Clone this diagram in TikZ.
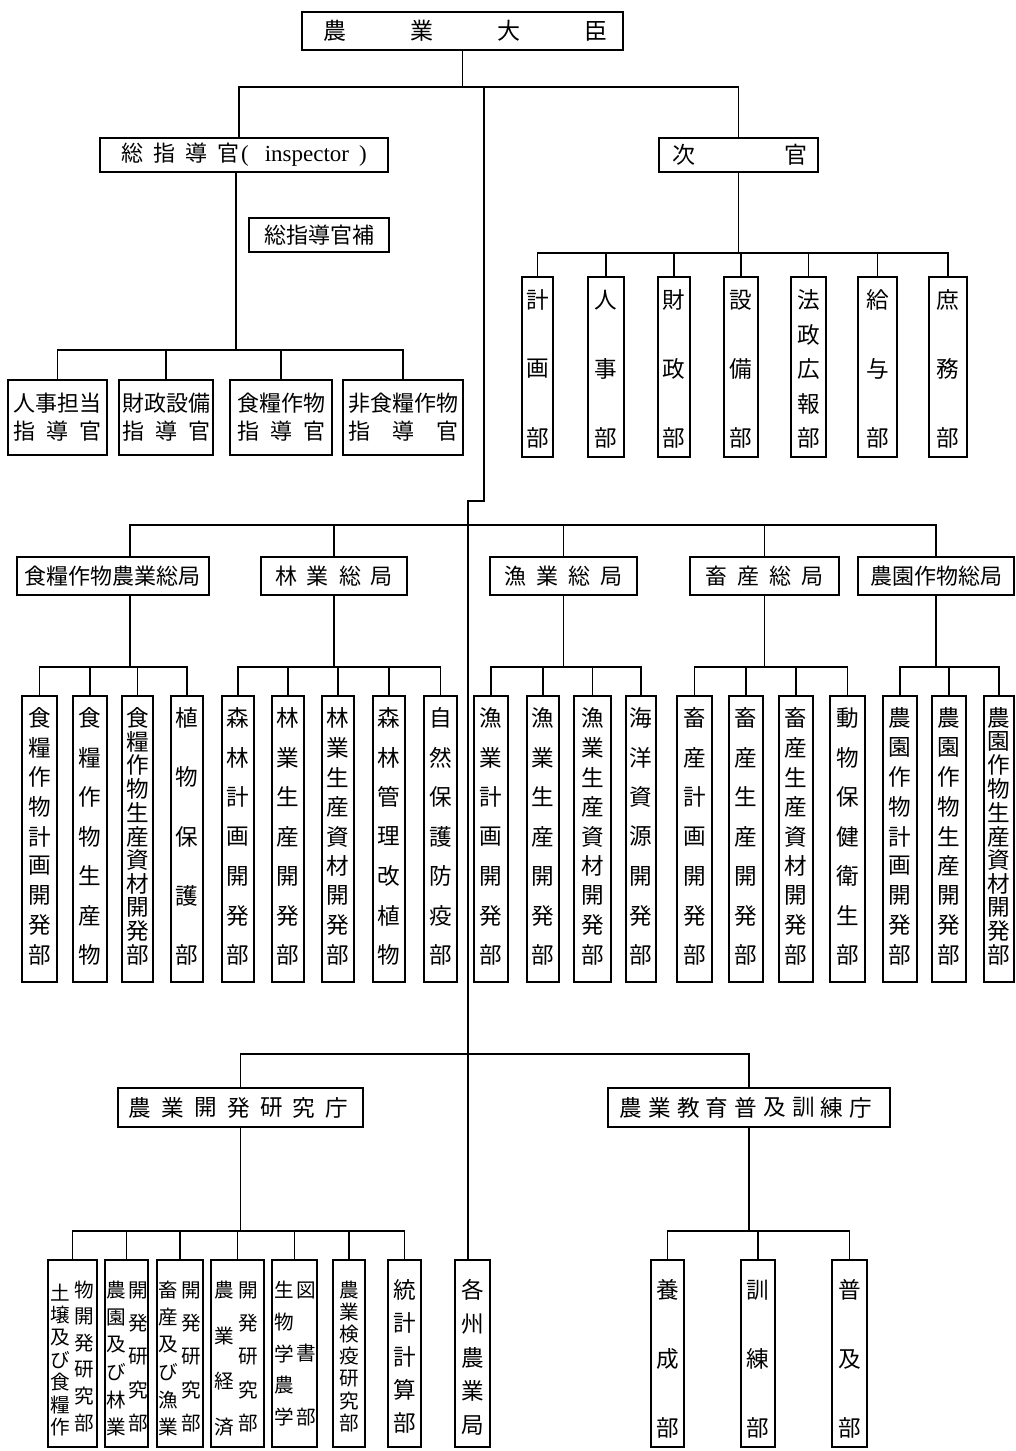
\documentclass[tikz,border=0pt]{standalone}
\usepackage{fontspec}
\newfontfamily\cjk{Noto Sans CJK JP}
\newfontfamily\lat{Liberation Serif}
\tikzset{
  box/.style={draw, line width=1.3pt, inner sep=0pt, font=\cjk\fontsize{11}{14}\selectfont, align=center},
  conn/.style={line width=0.7pt},
  ch/.style={inner sep=0pt, font=\cjk\fontsize{11.3}{11.3}\selectfont},
  chs/.style={inner sep=0pt, font=\cjk\fontsize{9.8}{9.8}\selectfont},
  chb/.style={inner sep=0pt, font=\cjk\fontsize{11.5}{11.5}\selectfont},
}
% box: [opts]{x1}{y1}{x2}{y2}{name}{text}
\newcommand\bx[7][]{\node[box,minimum width={(#4-#2)*0.5pt},minimum height={(#5-#3)*0.5pt},#1] (#6) at ({(#2+#4)/2},{(#3+#5)/2}) {#7};}
% vertical spread: [style]{name}{x}{ytop}{ybot}{N}{list}
\newcommand\vs[7][ch]{\foreach \mychar [count=\i from 0] in {#7} {\node[#1] (#2-\i) at (#3,{#4+\i*(#5-#4)/(#6-1)}) {\mychar};}}
% horizontal spread: [style]{name}{y}{x0}{x1}{N}{list}
\newcommand\hs[7][ch]{\foreach \mychar [count=\i from 0] in {#7} {\node[#1] (#2-\i) at ({#4+\i*(#5-#4)/(#6-1)},#3) {\mychar};}}
\begin{document}
\begin{tikzpicture}[x=0.5pt,y=-0.5pt]
\fill[white] (0,0) rectangle (1016,1451);
\useasboundingbox (0,0) rectangle (1016,1451);

% ---------- top ----------
\bx{302}{12}{623}{50}{min}{}
\hs[chb]{mint}{31}{335}{596}{4}{農,業,大,臣}
\bx{100}{138}{388}{172}{insp}{総\hspace{5pt}指\hspace{5pt}導\hspace{5pt}官\hspace{1pt}{\lat\fontsize{11.5}{11.5}\selectfont(\hspace{8pt}inspector\hspace{5pt})}}
\bx{659}{138}{818}{172}{vice}{}
\hs[chb]{vicet}{155}{684}{796}{2}{次,官}
\bx{249}{218}{389}{252}{asst}{総指導官補}

% inspector children
\bx{8}{380}{107}{455}{ia}{人事担当\\\makebox[44pt]{指\hfill 導\hfill 官}}
\bx{119}{380}{213}{455}{ib}{財政設備\\\makebox[44pt]{指\hfill 導\hfill 官}}
\bx{230}{380}{332}{455}{ic}{食糧作物\\\makebox[44pt]{指\hfill 導\hfill 官}}
\bx{343}{380}{463}{455}{id}{非食糧作物\\\makebox[55pt]{指\hfill 導\hfill 官}}

% vice children
\bx{522}{277}{553}{457}{va}{}\vs{vat}{537.5}{300}{438}{3}{計,画,部}
\bx{588}{277}{624}{457}{vb}{}\vs{vbt}{606}{300}{438}{3}{人,事,部}
\bx{658}{277}{690}{457}{vc}{}\vs{vct}{674}{300}{438}{3}{財,政,部}
\bx{724}{277}{758}{457}{vd}{}\vs{vdt}{741}{300}{438}{3}{設,備,部}
\bx{791}{277}{826}{457}{ve}{}\vs{vet}{808.5}{300}{438}{5}{法,政,広,報,部}
\bx{858}{277}{897}{457}{vf}{}\vs{vft}{877.5}{300}{438}{3}{給,与,部}
\bx{929}{277}{967}{457}{vg}{}\vs{vgt}{948}{300}{438}{3}{庶,務,部}

% ---------- bureaus ----------
\bx{17}{557}{209}{595}{g1}{食糧作物農業総局}
\bx{261}{557}{407}{595}{g2}{林\hspace{5pt}業\hspace{5pt}総\hspace{5pt}局}
\bx{490}{557}{637}{595}{g3}{漁\hspace{5pt}業\hspace{5pt}総\hspace{5pt}局}
\bx{690}{557}{839}{595}{g4}{畜\hspace{5pt}産\hspace{5pt}総\hspace{5pt}局}
\bx{858}{557}{1014}{595}{g5}{農園作物総局}

% departments
\bx{22}{696}{57}{982}{a1}{}\vs{a1t}{39.5}{718}{955}{9}{食,糧,作,物,計,画,開,発,部}
\bx{73}{696}{107}{982}{a2}{}\vs{a2t}{90}{718}{955}{7}{食,糧,作,物,生,産,物}
\bx{122}{696}{153}{982}{a3}{}\vs{a3t}{137.5}{718}{955}{11}{食,糧,作,物,生,産,資,材,開,発,部}
\bx{171}{696}{203}{982}{a4}{}\vs{a4t}{187}{718}{955}{5}{植,物,保,護,部}

\bx{222}{696}{254}{982}{b1}{}\vs{b1t}{238}{718}{955}{7}{森,林,計,画,開,発,部}
\bx{272}{696}{304}{982}{b2}{}\vs{b2t}{288}{718}{955}{7}{林,業,生,産,開,発,部}
\bx{322}{696}{354}{982}{b3}{}\vs{b3t}{338}{718}{955}{9}{林,業,生,産,資,材,開,発,部}
\bx{373}{696}{405}{982}{b4}{}\vs{b4t}{389}{718}{955}{7}{森,林,管,理,改,植,物}
\bx{424}{696}{457}{982}{b5}{}\vs{b5t}{440.5}{718}{955}{7}{自,然,保,護,防,疫,部}

\bx{474}{696}{508}{982}{c1}{}\vs{c1t}{491}{718}{955}{7}{漁,業,計,画,開,発,部}
\bx{527}{696}{559}{982}{c2}{}\vs{c2t}{543}{718}{955}{7}{漁,業,生,産,開,発,部}
\bx{574}{696}{611}{982}{c3}{}\vs{c3t}{592.5}{718}{955}{9}{漁,業,生,産,資,材,開,発,部}
\bx{626}{696}{656}{982}{c4}{}\vs{c4t}{641}{718}{955}{7}{海,洋,資,源,開,発,部}

\bx{677}{696}{712}{982}{d1}{}\vs{d1t}{694.5}{718}{955}{7}{畜,産,計,画,開,発,部}
\bx{729}{696}{763}{982}{d2}{}\vs{d2t}{746}{718}{955}{7}{畜,産,生,産,開,発,部}
\bx{779}{696}{813}{982}{d3}{}\vs{d3t}{796}{718}{955}{9}{畜,産,生,産,資,材,開,発,部}
\bx{830}{696}{865}{982}{d4}{}\vs{d4t}{847.5}{718}{955}{7}{動,物,保,健,衛,生,部}

\bx{883}{696}{917}{982}{e1}{}\vs{e1t}{900}{718}{955}{9}{農,園,作,物,計,画,開,発,部}
\bx{932}{696}{966}{982}{e2}{}\vs{e2t}{949}{718}{955}{9}{農,園,作,物,生,産,開,発,部}
\bx{984}{696}{1014}{982}{e3}{}\vs{e3t}{999}{718}{955}{11}{農,園,作,物,生,産,資,材,開,発,部}

% ---------- agencies ----------
\bx{118}{1088}{363}{1127}{r1}{}\hs{r1t}{1107.5}{140}{337}{7}{農,業,開,発,研,究,庁}
\bx{608}{1088}{890}{1127}{r2}{}\hs{r2t}{1107.5}{631}{861}{9}{農,業,教,育,普,及,訓,練,庁}

\bx{48}{1260}{97}{1447}{f1}{}
\vs[chs]{f1l}{60}{1293}{1427}{7}{土,壌,及,び,食,糧,作}
\vs[chs]{f1r}{84}{1290}{1423}{6}{物,開,発,研,究,部}
\bx{105}{1260}{148}{1447}{f2}{}
\vs[chs]{f2l}{116}{1290}{1427}{6}{農,園,及,び,林,業}
\vs[chs]{f2r}{138}{1290}{1423}{5}{開,発,研,究,部}
\bx{157}{1260}{203}{1447}{f3}{}
\vs[chs]{f3l}{168}{1290}{1427}{6}{畜,産,及,び,漁,業}
\vs[chs]{f3r}{191}{1290}{1423}{5}{開,発,研,究,部}
\bx{211}{1260}{264}{1447}{f4}{}
\vs[chs]{f4l}{224}{1290}{1427}{4}{農,業,経,済}
\vs[chs]{f4r}{248}{1290}{1423}{5}{開,発,研,究,部}
\bx{272}{1260}{317}{1447}{f5}{}
\vs[chs]{f5l}{284}{1290}{1417}{5}{生,物,学,農,学}
\vs[chs]{f5r}{306}{1290}{1417}{3}{図,書,部}
\bx{333}{1260}{365}{1447}{f6}{}\vs[chs]{f6t}{349}{1290}{1423}{7}{農,業,検,疫,研,究,部}
\bx{388}{1260}{421}{1447}{f7}{}\vs{f7t}{404.5}{1290}{1423}{5}{統,計,計,算,部}
\bx{455}{1260}{490}{1447}{kaku}{}\vs{kakut}{472.5}{1290}{1425}{5}{各,州,農,業,局}

\bx{651}{1260}{684}{1447}{h1}{}\vs{h1t}{667.5}{1290}{1428}{3}{養,成,部}
\bx{741}{1260}{775}{1447}{h2}{}\vs{h2t}{758}{1290}{1428}{3}{訓,練,部}
\bx{832}{1260}{867}{1447}{h3}{}\vs{h3t}{849.5}{1290}{1428}{3}{普,及,部}

% ---------- connectors ----------
\coordinate (bar1) at (0,87);
\coordinate (bar2) at (0,350);
\coordinate (bar3) at (0,253);
\coordinate (bar4) at (0,525);
\coordinate (bar5) at (0,667);
\coordinate (bar6) at (0,1054);
\coordinate (bar7) at (0,1231);
\coordinate (sp1) at (484,87);
\coordinate (sp2) at (484,501);
\coordinate (sp3) at (468,501);

\draw[conn] (min.south) -- (min.south |- bar1);
\draw[conn] ([xshift=-2.5pt]insp.north) |- (vice.north |- bar1) -- (vice.north);
\draw[conn] (sp1) -- (sp2) -- (sp3) -- (sp3 |- kaku.north);

\draw[conn] ([xshift=-4pt]insp.south) -- ([xshift=-4pt]insp.south |- bar2);
\draw[conn] (ia.north) |- (id.north |- bar2) -- (id.north);
\foreach \n in {ib,ic} \draw[conn] (\n.north) -- (\n.north |- bar2);

\draw[conn] (vice.south) -- (vice.south |- bar3);
\draw[conn] (va.north) |- (vg.north |- bar3) -- (vg.north);
\foreach \n in {vb,vc,vd,ve,vf} \draw[conn] (\n.north) -- (\n.north |- bar3);

\draw[conn] ([xshift=8.5pt]g1.north) |- (g5.north |- bar4) -- (g5.north);
\foreach \n in {g2,g3,g4} \draw[conn] (\n.north) -- (\n.north |- bar4);

\draw[conn] ([xshift=8.5pt]g1.south) -- ([xshift=8.5pt]g1.south |- bar5);
\draw[conn] (a1.north) |- (a4.north |- bar5) -- (a4.north);
\foreach \n in {a2,a3} \draw[conn] (\n.north) -- (\n.north |- bar5);
\draw[conn] (g2.south) -- (g2.south |- bar5);
\draw[conn] (b1.north) |- (b5.north |- bar5) -- (b5.north);
\foreach \n in {b2,b3,b4} \draw[conn] (\n.north) -- (\n.north |- bar5);
\draw[conn] (g3.south) -- (g3.south |- bar5);
\draw[conn] (c1.north) |- (c4.north |- bar5) -- (c4.north);
\foreach \n in {c2,c3} \draw[conn] (\n.north) -- (\n.north |- bar5);
\draw[conn] (g4.south) -- (g4.south |- bar5);
\draw[conn] (d1.north) |- (d4.north |- bar5) -- (d4.north);
\foreach \n in {d2,d3} \draw[conn] (\n.north) -- (\n.north |- bar5);
\draw[conn] (g5.south) -- (g5.south |- bar5);
\draw[conn] (e1.north) |- (e3.north |- bar5) -- (e3.north);
\draw[conn] (e2.north) -- (e2.north |- bar5);

\draw[conn] (r1.north) |- (r2.north |- bar6) -- (r2.north);
\draw[conn] (r1.south) -- (r1.south |- bar7);
\draw[conn] (f1.north) |- (f7.north |- bar7) -- (f7.north);
\foreach \n in {f2,f3,f4,f5,f6} \draw[conn] (\n.north) -- (\n.north |- bar7);
\draw[conn] (r2.south) -- (r2.south |- bar7);
\draw[conn] (h1.north) |- (h3.north |- bar7) -- (h3.north);
\draw[conn] (h2.north) -- (h2.north |- bar7);
\end{tikzpicture}
\end{document}
